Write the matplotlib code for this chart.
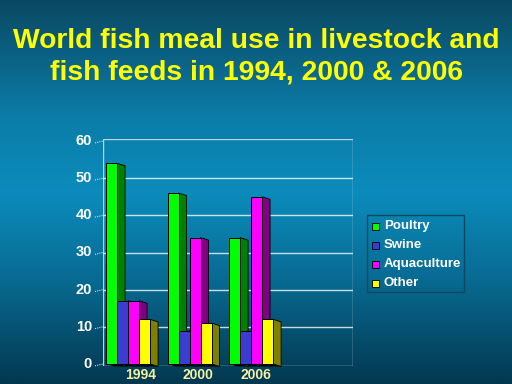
import matplotlib
matplotlib.use("Agg")
import matplotlib.pyplot as plt
import numpy as np
from matplotlib.patches import Polygon, Rectangle
from matplotlib.colors import LinearSegmentedColormap

plt.rcParams['font.family'] = ['Liberation Sans', 'DejaVu Sans']

years = ["1994", "2000", "2006"]
series = ["Poultry", "Swine", "Aquaculture", "Other"]
poultry = [54, 46, 34]
swine = [17, 9, 9]
aquaculture = [17, 34, 45]
other = [12, 11, 12]
values = [poultry, swine, aquaculture, other]
yticks = [0, 10, 20, 30, 40, 50, 60]

front_colors = ["#00ff00", "#3c3cd0", "#ff00ff", "#ffff00"]
side_colors = ["#008000", "#2a2a90", "#800080", "#808000"]

W, H = 512, 384
fig = plt.figure(figsize=(5.12, 3.84), dpi=100)

# background gradient
bg = fig.add_axes([0, 0, 1, 1])
stops = [(0.0, "#0a4862"), (0.3, "#0c7ca8"), (0.5, "#0b8cbc"), (0.72, "#086c94"), (1.0, "#033850")]
cmap = LinearSegmentedColormap.from_list("bg", stops)
grad = np.linspace(0, 1, 256).reshape(-1, 1)
bg.imshow(grad, aspect="auto", cmap=cmap, extent=[0, 1, 0, 1], origin="upper")
bg.set_xlim(0, 1); bg.set_ylim(0, 1)
bg.axis("off")

# title
fig.text(0.5, 1 - 41 / H, "World fish meal use in livestock and", color="#ffff00",
         fontsize=20.3, fontweight="bold", ha="center", va="center")
fig.text(0.5, 1 - 73 / H, "fish feeds in 1994, 2000 & 2006", color="#ffff00",
         fontsize=20.3, fontweight="bold", ha="center", va="center")

# main axes (pixel geometry of back wall)
px_l, px_r, px_t, px_b = 103, 353, 139, 366
ax = fig.add_axes([px_l / W, 1 - px_b / H, (px_r - px_l) / W, (px_b - px_t) / H])
ax.patch.set_alpha(0)
slot = 61.5
xmax = (px_r - px_l) / slot
ax.set_xlim(0, xmax)
ax.set_ylim(-0.55, 60.55)
for s in ax.spines.values():
    s.set_visible(False)
ax.set_xticks([]); ax.set_yticks([])

wall_col = "#b8d4e0"
# wall outline
ax.add_patch(Rectangle((0, -0.55), xmax, 61.1, fill=False, ec=wall_col, lw=1.0, zorder=1))
for t in yticks[1:-1]:
    ax.axhline(t, color="#e8f4f8", lw=1.0, alpha=0.85, zorder=1)

# y tick labels and dotted tick marks
for t in yticks:
    ax.plot([-8 / slot, 0], [t - 0.5, t], color="#c8e0e8", lw=0.8, ls=(0, (1, 1)),
            clip_on=False, zorder=1)
    ax.text(-11 / slot, t, str(t), color="white", fontsize=10.5, fontweight="bold",
            ha="right", va="center", clip_on=False)

w = 11 / slot
dx = 8 / slot
dy = 2.5 / 3.72

for i, yr in enumerate(years):
    start = i + 0.05
    # floor shadow
    x0 = start
    x1 = start + len(series) * w
    ax.add_patch(Polygon([(x0, 0), (x1, 0), (x1 + dx, -dy), (x0 + dx, -dy)],
                         closed=True, fc="black", ec="none", zorder=2, clip_on=False))
    for j in range(len(series)):
        h = values[j][i]
        x = start + j * w
        side = Polygon([(x + w, h), (x + w + dx, h - dy), (x + w + dx, -dy), (x + w, 0)],
                       closed=True, fc=side_colors[j], ec="black", lw=0.6, zorder=3 + 2 * j,
                       clip_on=False)
        ax.add_patch(side)
        ax.add_patch(Rectangle((x, 0), w, h, fc=front_colors[j], ec="black", lw=0.7,
                               zorder=4 + 2 * j, clip_on=False))
    ax.text(i * 0.94 + 0.61, -3.0, yr, color="#f5f0a0", fontsize=10, fontweight="bold",
            ha="center", va="center", clip_on=False)

# legend (manual)
lx0, lx1, ly0, ly1 = 367, 464, 215, 292
fig.add_artist(Rectangle((lx0 / W, 1 - ly1 / H), (lx1 - lx0) / W, (ly1 - ly0) / H,
                         fill=False, ec="#0a4a5e", lw=1.0, transform=fig.transFigure))
entry_y = [226, 245, 264, 283]
for j, name in enumerate(series):
    yy = entry_y[j]
    fig.add_artist(Rectangle((372 / W, 1 - (yy + 3.5) / H), 7 / W, 7 / H,
                             fc=front_colors[j], ec="black", lw=0.6, transform=fig.transFigure))
    fig.text(384 / W, 1 - yy / H, name, color="white", fontsize=9.5, fontweight="bold",
             ha="left", va="center")

fig.savefig("out.png", dpi=100)
